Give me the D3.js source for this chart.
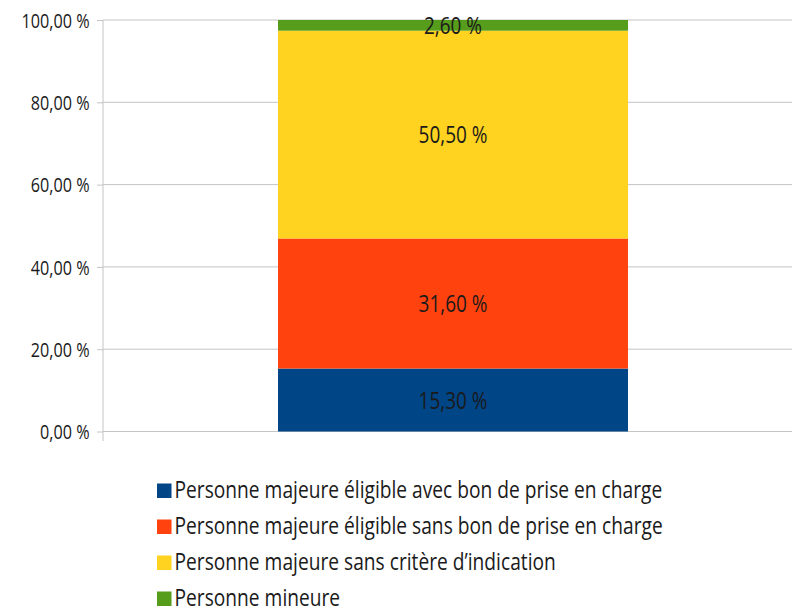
<!DOCTYPE html>
<html><head><meta charset="utf-8">
<script src="https://cdn.jsdelivr.net/npm/d3@7"></script>
<style>
body{margin:0;background:#fff;}
text{font-family:"Open Sans",sans-serif;fill:#1a1a1a;}
</style></head>
<body><svg id="c" width="792" height="612"></svg>
<script>
const categories = ["Personne majeure éligible avec bon de prise en charge",
  "Personne majeure éligible sans bon de prise en charge",
  "Personne majeure sans critère d’indication",
  "Personne mineure"];
const values = [15.3, 31.6, 50.5, 2.6];
const colors = ["#004586", "#ff420e", "#ffd320", "#579d1c"];
const yTicks = [0, 20, 40, 60, 80, 100];

const svg = d3.select("#c");
const fmt = v => v.toFixed(2).replace(".", ",") + " %";
const y = d3.scaleLinear().domain([0, 100]).range([431.5, 20]);

// helper: measure natural width of a string at given size
function measure(str, size) {
  const t = svg.append("text").style("font-size", size + "px").text(str);
  const w = t.node().getComputedTextLength(); t.remove(); return w;
}
const tickSize = 20, labSize = 24.5, legSize = 24;
const tickScale = 68 / measure("100,00 %", tickSize);
const labScale = 69 / measure("50,50 %", labSize);
const legScale = 488 / measure(categories[0], legSize);

// grid
svg.append("g").selectAll("line").data(yTicks).join("line")
  .attr("x1", 103).attr("x2", 792)
  .attr("y1", d => y(d)).attr("y2", d => y(d))
  .attr("stroke", "#c4c4c4").attr("stroke-width", 1);

const ax = svg.append("g").attr("transform", "translate(103,0)")
  .call(d3.axisLeft(y).tickValues(yTicks).tickFormat(fmt).tickSize(6).tickPadding(7));
ax.select(".domain").remove();
ax.selectAll(".tick line").attr("stroke", "#c4c4c4");
ax.selectAll(".tick text").attr("x", 0).attr("dy", null)
  .attr("dominant-baseline", "central")
  .attr("transform", `translate(-13.5,-0.5) scale(${tickScale},1)`)
  .style("font-size", tickSize + "px").attr("fill", "#1a1a1a");
svg.append("line").attr("x1", 103).attr("x2", 103).attr("y1", 20).attr("y2", 441)
  .attr("stroke", "#c4c4c4");

// stacked bar
let cum = 0;
const segs = values.map((v, i) => { const s = {v, i, y0: cum, y1: cum + v}; cum += v; return s; });
const bx = 278, bw = 350;
svg.append("g").selectAll("rect").data(segs).join("rect")
  .attr("x", bx).attr("width", bw)
  .attr("y", d => y(d.y1)).attr("height", d => y(d.y0) - y(d.y1))
  .attr("fill", d => colors[d.i]);
svg.append("g").selectAll("text").data(segs).join("text")
  .attr("transform", d => `translate(${bx + bw / 2},${y((d.y0 + d.y1) / 2) - 1}) scale(${labScale},1)`)
  .attr("text-anchor", "middle").attr("dominant-baseline", "central")
  .style("font-size", labSize + "px")
  .text(d => fmt(d.v));

// legend
const lg = svg.append("g").selectAll("g").data(categories).join("g")
  .attr("transform", (d, i) => `translate(157,${498 + i * 36})`);
lg.append("rect").attr("x", 0).attr("y", -14.5).attr("width", 14.5).attr("height", 14.5)
  .attr("fill", (d, i) => colors[i]);
lg.append("text").attr("transform", `translate(17.5,0) scale(${legScale},1)`)
  .style("font-size", legSize + "px").text(d => d);
</script></body></html>
